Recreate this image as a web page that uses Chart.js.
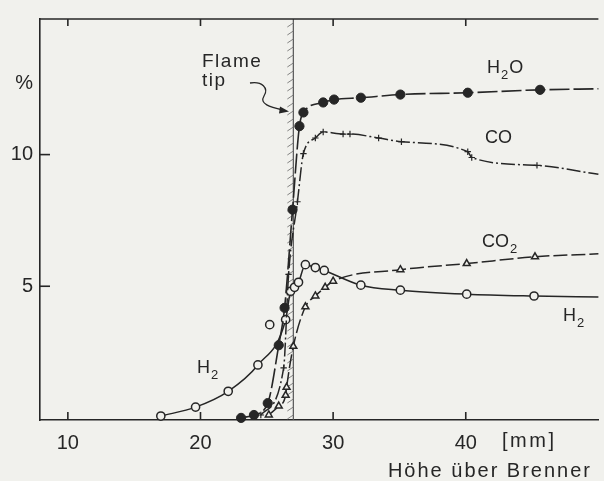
<!DOCTYPE html>
<html>
<head>
<meta charset="utf-8">
<script src="https://cdn.jsdelivr.net/npm/chart.js@4.4.0/dist/chart.umd.min.js"></script>
<style>
    body { margin: 0; background: #f1f1ed; }
    #wrap { width: 604px; height: 481px; }
</style>
</head>
<body>
<div id="wrap"><canvas id="myCanvas"></canvas></div>
<script>
// Höhe über Brenner [mm] -> Anteil [%]
var h2oX = [23.06, 24.03, 25.07, 25.9, 26.34, 26.94, 27.46, 27.76, 29.25, 30.07, 32.09, 35.07, 40.15, 45.6, 50];
var h2oY = [0, 0.11, 0.56, 2.76, 4.18, 7.91, 11.08, 11.6, 11.98, 12.09, 12.16, 12.28, 12.35, 12.46, 12.5];

var coX = [24.55, 26.27, 26.64, 27.31, 27.76, 28.66, 29.25, 30.75, 31.27, 33.43, 35.15, 40.15, 40.45, 45.37, 50];
var coY = [0.11, 1.9, 5.45, 8.21, 10.04, 10.63, 10.86, 10.78, 10.78, 10.63, 10.49, 10.11, 9.89, 9.59, 9.25];

var co2X = [25.15, 25.9, 26.42, 26.49, 27.0, 27.91, 28.66, 29.4, 30.0, 35.07, 40.07, 45.22, 50];
var co2Y = [0.11, 0.45, 0.86, 1.16, 2.72, 4.22, 4.63, 4.96, 5.19, 5.63, 5.86, 6.12, 6.23];

var h2X = [17.01, 19.63, 22.09, 24.33, 26.42, 26.79, 27.09, 27.39, 27.91, 28.66, 29.33, 32.09, 35.07, 40.07, 45.15, 50];
var h2Y = [0.07, 0.41, 1.01, 2.01, 3.73, 4.81, 4.96, 5.15, 5.82, 5.71, 5.6, 5.04, 4.85, 4.7, 4.63, 4.59];

// stray H2 point off the curve
var h2OutX = [25.22];
var h2OutY = [3.54];

var xTicks = [10, 20, 30, 40];
var yTicks = [5, 10];
var unitTick = 12.7;   // where the "%" sits on the y axis
var flameTip = 27;

var ink = '#262626';
var paper = '#f1f1ed';
var font = '"Liberation Sans", Arial, sans-serif';

function pts(xs, ys) {
    var out = [];
    for (var i = 0; i < xs.length; i++) out.push({ x: xs[i], y: ys[i] });
    return out;
}

// last point is only where the curve leaves the frame, no marker there
function rad(n, r) {
    return function (c) { return c.dataIndex === n - 1 ? 0 : r; };
}

function chem(c, x, y, parts) {
    parts.forEach(function (p) {
        c.font = (p[1] ? '13px ' : '18px ') + font;
        c.fillText(p[0], x, y + (p[1] ? 6 : 0));
        x += c.measureText(p[0]).width + 1;
    });
}

var decor = {
    id: 'decor',
    beforeDraw: function (chart) {
        var c = chart.ctx;
        c.save();
        c.fillStyle = paper;
        c.fillRect(0, 0, chart.width, chart.height);
        c.restore();
    },
    beforeDatasetsDraw: function (chart) {
        var c = chart.ctx, a = chart.chartArea;
        var x = chart.scales.x.getPixelForValue(flameTip);
        c.save();
        c.strokeStyle = '#555';
        c.lineWidth = 1.2;
        c.beginPath(); c.moveTo(x, a.top); c.lineTo(x, a.bottom); c.stroke();
        c.strokeStyle = '#777';
        c.lineWidth = 0.9;
        for (var y = a.top + 5; y < a.bottom - 2; y += 8) {
            c.beginPath(); c.moveTo(x - 6, y + 3); c.lineTo(x, y - 1); c.stroke();
        }
        c.restore();
    },
    afterDraw: function (chart) {
        var c = chart.ctx, a = chart.chartArea;
        var sx = chart.scales.x, sy = chart.scales.y;
        c.save();
        c.strokeStyle = ink;
        c.lineWidth = 1.6;
        // top frame line
        c.beginPath(); c.moveTo(a.left, a.top); c.lineTo(a.right, a.top); c.stroke();
        // inward ticks
        xTicks.forEach(function (v) {
            var px = sx.getPixelForValue(v);
            c.beginPath(); c.moveTo(px, a.bottom); c.lineTo(px, a.bottom - 8); c.stroke();
            c.beginPath(); c.moveTo(px, a.top); c.lineTo(px, a.top + 7); c.stroke();
        });
        yTicks.forEach(function (v) {
            var py = sy.getPixelForValue(v);
            c.beginPath(); c.moveTo(a.left, py); c.lineTo(a.left + 10, py); c.stroke();
        });

        c.fillStyle = ink;
        c.textBaseline = 'alphabetic';
        c.textAlign = 'left';
        chem(c, 487, 73, [['H'], ['2', 1], ['O']]);
        chem(c, 485, 143, [['CO']]);
        chem(c, 482, 247, [['CO'], ['2', 1]]);
        chem(c, 563, 321, [['H'], ['2', 1]]);
        chem(c, 197, 373, [['H'], ['2', 1]]);

        c.font = '19px ' + font;
        c.letterSpacing = '1.5px';
        c.fillText('Flame', 202, 67);
        c.fillText('tip', 202, 86);
        c.font = '20px ' + font;
        c.letterSpacing = '2.5px';
        c.fillText('[mm]', 502, 447);
        c.letterSpacing = '2px';
        c.textAlign = 'right';
        c.fillText('Höhe über Brenner', 592, 477);
        c.letterSpacing = '0px';

        // wavy arrow pointing at the flame tip
        c.lineWidth = 1.3;
        c.beginPath();
        c.moveTo(250, 83);
        c.bezierCurveTo(262, 81, 269, 88, 264, 96);
        c.bezierCurveTo(259, 104, 270, 107, 283, 110);
        c.stroke();
        c.beginPath();
        c.moveTo(289, 111.5); c.lineTo(280, 106.5); c.lineTo(279, 113.5); c.closePath();
        c.fill();
        c.restore();
    }
};

var datasets = [
    {
        label: 'H2O',
        data: pts(h2oX, h2oY),
        borderColor: ink, backgroundColor: ink,
        borderWidth: 1.6, borderDash: [20, 4],
        pointStyle: 'circle', pointRadius: rad(h2oX.length, 4.6),
        pointBorderWidth: 1
    },
    {
        label: 'CO',
        data: pts(coX, coY),
        borderColor: ink, backgroundColor: ink,
        borderWidth: 1.5, borderDash: [14, 3, 2, 3],
        pointStyle: 'cross', pointRadius: rad(coX.length, 3.2),
        pointBorderWidth: 1.2
    },
    {
        label: 'CO2',
        data: pts(co2X, co2Y),
        borderColor: ink, backgroundColor: paper,
        borderWidth: 1.5, borderDash: [14, 4],
        pointStyle: 'triangle', pointRadius: rad(co2X.length, 4),
        pointBorderWidth: 1.5
    },
    {
        label: 'H2',
        data: pts(h2X, h2Y),
        borderColor: ink, backgroundColor: paper,
        borderWidth: 1.5,
        pointStyle: 'circle', pointRadius: rad(h2X.length, 4.1),
        pointBorderWidth: 1.5
    },
    {
        label: 'H2 (Ausreißer)',
        data: pts(h2OutX, h2OutY),
        showLine: false,
        borderColor: ink, backgroundColor: paper,
        pointStyle: 'circle', pointRadius: 4.1, pointBorderWidth: 1.5
    }
];

datasets.forEach(function (d) {
    if (d.showLine === undefined) d.showLine = true;
    d.cubicInterpolationMode = 'monotone';
    d.fill = false;
    d.clip = false;
});

var ctx = document.getElementById('myCanvas');
var chart = new Chart(ctx, {
    type: 'scatter',
    data: { datasets: datasets },
    options: {
        responsive: true,
        maintainAspectRatio: false,
        animation: false,
        layout: { padding: { top: 12, right: 0, left: 0, bottom: 0 } },
        plugins: {
            legend: { display: false },
            tooltip: { enabled: false }
        },
        scales: {
            x: {
                type: 'linear',
                min: 7.9, max: 50,
                afterFit: function (s) { s.height = 61; },
                afterBuildTicks: function (s) {
                    s.ticks = xTicks.map(function (v) { return { value: v }; });
                },
                grid: { display: false, drawTicks: false },
                border: { display: true, color: ink, width: 1.6 },
                ticks: {
                    color: ink, padding: 11,
                    font: { family: font, size: 20 },
                    maxRotation: 0
                }
            },
            y: {
                type: 'linear',
                min: -0.08, max: 15.15,
                afterFit: function (s) { s.width = 40; },
                afterBuildTicks: function (s) {
                    s.ticks = yTicks.concat([unitTick]).map(function (v) { return { value: v }; });
                },
                grid: { display: false, drawTicks: false },
                border: { display: true, color: ink, width: 1.6 },
                ticks: {
                    color: ink, padding: 7,
                    font: { family: font, size: 20 },
                    callback: function (v) { return v === unitTick ? '%' : v; }
                }
            }
        }
    },
    plugins: [decor]
});
</script>
</body>
</html>
